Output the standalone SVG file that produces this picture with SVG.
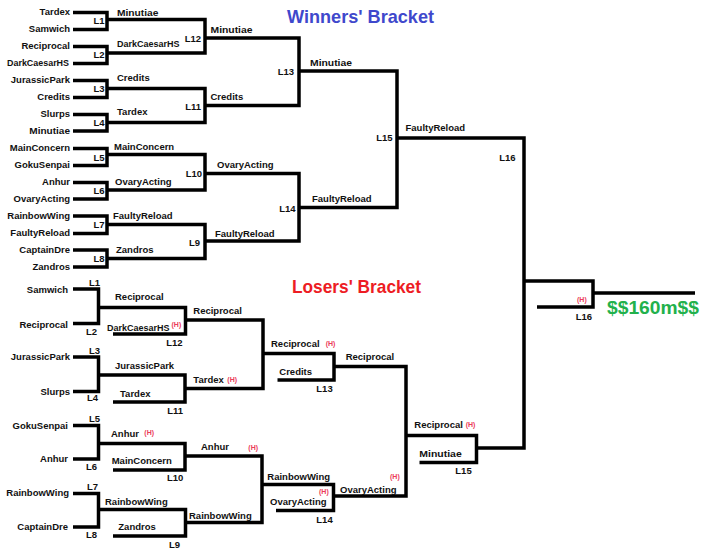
<svg xmlns="http://www.w3.org/2000/svg" width="714" height="555" viewBox="0 0 714 555">
<style>
text{font-family:"Liberation Sans",Arial,sans-serif;font-weight:bold;font-size:9.5px;fill:#111}
.e{text-anchor:end}
.h{font-size:7px;fill:#ec3c5a}
.t{font-size:19px}
.ln{fill:none;stroke:#000;stroke-width:3.5;stroke-linejoin:miter;stroke-linecap:butt}
</style>
<rect width="714" height="555" fill="#fff"/>
<g id="connectors" class="ln">
<path d="M73,12.5H107V29.5H73M73,46.5H107V63.5H73M73,80.5H107V97.5H73M73,114.5H107V131H73M73,148.5H107V165.5H73M73,182.5H107V199H73M73,216H107V233.5H73M73,250H107V267H73"/>
<path d="M107,19.5H205V53H107M107,88.5H205V122.5H107M107,154.5H205V190H107M107,224.5H205V258.5H107"/>
<path d="M205,38H299V105.5H205M205,173.5H299V241H205"/>
<path d="M299,71H397V207.5H299"/>
<path d="M397,138H524V448H476.5"/>
<path d="M524,281H593V307H537M593,293H695"/>
<path d="M73,289H98.5V323.5H73M73,357H98.5V391.5H73M73,425.5H98.5V459H73M73,493.5H98.5V527H73"/>
<path d="M98.5,307.5H185.5V334H113M98.5,375H185V402H113M98.5,443.5H185V470H113M98.5,509.5H185.5V536H113"/>
<path d="M185.5,320H263V388.5H185M185,456H262V522.5H185.5"/>
<path d="M263,353.5H334V380H277.5M262,484.5H333.5V510.5H276"/>
<path d="M334,366.5H406V496H333.5"/>
<path d="M406,435.5H476.5V462.5H419.5"/>
</g>
<g id="titles">
<text class="t" x="287" y="23" textLength="147" lengthAdjust="spacingAndGlyphs" style="fill:#3F48CC">Winners' Bracket</text>
<text class="t" x="292" y="292.5" textLength="129" lengthAdjust="spacingAndGlyphs" style="fill:#ED1C24">Losers' Bracket</text>
</g>
<g id="winners-players" class="e">
<text class="e" x="70" y="15">Tardex</text>
<text class="e" x="70" y="32">Samwich</text>
<text class="e" x="70" y="49">Reciprocal</text>
<text class="e" x="69" y="66" textLength="62" lengthAdjust="spacingAndGlyphs">DarkCaesarHS</text>
<text class="e" x="70" y="83">JurassicPark</text>
<text class="e" x="70" y="100">Credits</text>
<text class="e" x="70" y="117">Slurps</text>
<text class="e" x="70" y="133.5" textLength="40.7" lengthAdjust="spacingAndGlyphs">Minutiae</text>
<text class="e" x="70" y="151">MainConcern</text>
<text class="e" x="70" y="168">GokuSenpai</text>
<text class="e" x="70" y="185">Anhur</text>
<text class="e" x="70" y="201.5">OvaryActing</text>
<text class="e" x="70" y="218.5">RainbowWing</text>
<text class="e" x="70" y="236">FaultyReload</text>
<text class="e" x="70" y="252.5">CaptainDre</text>
<text class="e" x="70" y="269.5">Zandros</text>
</g>
<g id="w-L1"><text class="e" x="104.5" y="23.5">L1</text><text x="117" y="15.5" textLength="41.5" lengthAdjust="spacingAndGlyphs">Minutiae</text></g>
<g id="w-L2"><text class="e" x="104.5" y="57.5">L2</text><text x="117" y="46.5" textLength="62.5" lengthAdjust="spacingAndGlyphs">DarkCaesarHS</text></g>
<g id="w-L3"><text class="e" x="104.5" y="91.5">L3</text><text x="117" y="81">Credits</text></g>
<g id="w-L4"><text class="e" x="104.5" y="126">L4</text><text x="117" y="115">Tardex</text></g>
<g id="w-L5"><text class="e" x="104.5" y="161">L5</text><text x="114" y="149.5">MainConcern</text></g>
<g id="w-L6"><text class="e" x="104.5" y="193.5">L6</text><text x="115" y="185">OvaryActing</text></g>
<g id="w-L7"><text class="e" x="104.5" y="228">L7</text><text x="113" y="218.5">FaultyReload</text></g>
<g id="w-L8"><text class="e" x="104.5" y="262">L8</text><text x="116" y="252.5">Zandros</text></g>
<g id="w-L12"><text class="e" x="201" y="41.5">L12</text><text x="210.5" y="32.5" textLength="42" lengthAdjust="spacingAndGlyphs">Minutiae</text></g>
<g id="w-L11"><text class="e" x="201" y="109.5">L11</text><text x="210.5" y="99.5">Credits</text></g>
<g id="w-L10"><text class="e" x="202" y="177">L10</text><text x="217" y="167.5">OvaryActing</text></g>
<g id="w-L9"><text class="e" x="200" y="246">L9</text><text x="215" y="237">FaultyReload</text></g>
<g id="w-L13"><text class="e" x="294" y="75">L13</text><text x="310" y="66" textLength="42" lengthAdjust="spacingAndGlyphs">Minutiae</text></g>
<g id="w-L14"><text class="e" x="295.5" y="212">L14</text><text x="312" y="202">FaultyReload</text></g>
<g id="w-L15"><text class="e" x="392.5" y="141">L15</text><text x="405.5" y="131">FaultyReload</text></g>
<g id="w-L16"><text class="e" x="515.5" y="160.5">L16</text></g>
<g id="final"><text class="h" x="577" y="301.5">(H)</text><text class="e" x="592" y="320">L16</text>
<text x="607" y="314" textLength="92" lengthAdjust="spacingAndGlyphs" style="font-size:19px;fill:#22B14C">$$160m$$</text></g>
<g id="losers-players">
<text class="e" x="68" y="292.5">Samwich</text>
<text class="e" x="68" y="327.5">Reciprocal</text>
<text class="e" x="70" y="360">JurassicPark</text>
<text class="e" x="70" y="394.5">Slurps</text>
<text class="e" x="68" y="428.5">GokuSenpai</text>
<text class="e" x="68" y="462">Anhur</text>
<text class="e" x="69" y="496">RainbowWing</text>
<text class="e" x="68" y="530">CaptainDre</text>
</g>
<g id="l-R1">
<text class="e" x="100" y="286">L1</text><text class="e" x="97" y="334.5">L2</text>
<text class="e" x="100" y="354">L3</text><text class="e" x="98" y="401">L4</text>
<text class="e" x="100" y="422">L5</text><text class="e" x="97" y="470">L6</text>
<text class="e" x="98" y="489.5">L7</text><text class="e" x="97" y="538">L8</text>
</g>
<g id="l-L12"><text x="115" y="300">Reciprocal</text><text x="107" y="330.5" textLength="62.5" lengthAdjust="spacingAndGlyphs">DarkCaesarHS</text><text class="h" x="171.5" y="326.5">(H)</text><text class="e" x="182.5" y="346">L12</text><text x="193.3" y="314">Reciprocal</text></g>
<g id="l-L11"><text x="115" y="369">JurassicPark</text><text x="120" y="396.5">Tardex</text><text class="e" x="183" y="414">L11</text><text x="193.3" y="383">Tardex</text><text class="h" x="227.3" y="381.5">(H)</text></g>
<g id="l-L10"><text x="111" y="437">Anhur</text><text class="h" x="144.3" y="435">(H)</text><text x="111.7" y="464">MainConcern</text><text class="e" x="183.3" y="481">L10</text><text x="201" y="449.5">Anhur</text><text class="h" x="248.3" y="450">(H)</text></g>
<g id="l-L9"><text x="105" y="504.5">RainbowWing</text><text x="118.3" y="530">Zandros</text><text class="e" x="180" y="548">L9</text><text x="189" y="518.5">RainbowWing</text></g>
<g id="l-L13"><text x="271" y="347">Reciprocal</text><text class="h" x="325.7" y="345.5">(H)</text><text x="279.3" y="375">Credits</text><text class="e" x="332.7" y="392">L13</text><text x="345.7" y="360">Reciprocal</text></g>
<g id="l-L14"><text x="267.3" y="480">RainbowWing</text><text x="270" y="504.5">OvaryActing</text><text class="h" x="319" y="494">(H)</text><text class="e" x="332.7" y="523">L14</text><text x="340" y="493">OvaryActing</text><text class="h" x="390" y="478.5">(H)</text></g>
<g id="l-L15"><text x="414.3" y="428">Reciprocal</text><text class="h" x="465.7" y="427">(H)</text><text x="419.3" y="457" textLength="42.4" lengthAdjust="spacingAndGlyphs">Minutiae</text><text class="e" x="471.7" y="474">L15</text></g>
</svg>
